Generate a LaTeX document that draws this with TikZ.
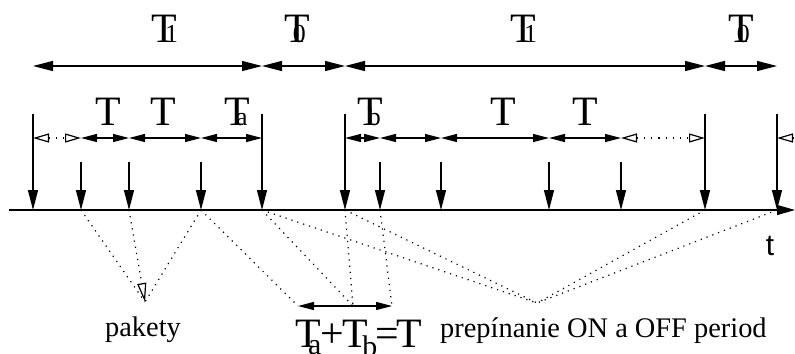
\documentclass[tikz,border=0pt]{standalone}
\usepackage{fontspec}
\setmainfont{Liberation Serif}
\setsansfont{Liberation Sans}
\usetikzlibrary{arrows.meta}

% T with a subscript set over it
\newcommand{\Tlab}[2][-12bp]{T\rlap{\kern#1\fontsize{26}{26}\selectfont #2}}

\tikzset{
  vec/.style={line width=1.3bp, -{Triangle[length=20bp,width=10bp]}},
  per/.style={line width=1.3bp, {Triangle[length=20bp,width=10bp]}-{Triangle[length=20bp,width=10bp]}},
  dimsmall/.style={line width=1.3bp, {Triangle[length=16bp,width=8bp]}-{Triangle[length=16bp,width=8bp]}},
  dimopen/.style={line width=1.2bp, dash pattern=on 1.2bp off 6bp,
    {Triangle[open,length=16bp,width=9bp]}-{Triangle[open,length=16bp,width=9bp]}},
  dimopenl/.style={line width=1.2bp, dash pattern=on 1.2bp off 6bp, {Triangle[open,length=16bp,width=9bp]}-},
  link/.style={line width=1.2bp, dash pattern=on 1.2bp off 5bp},
  lab/.style={font=\fontsize{42}{42}\selectfont, inner sep=0pt, anchor=base},
  txt/.style={font=\fontsize{28.5}{30}\selectfont, inner sep=0pt, anchor=base}
}

\begin{document}
\begin{tikzpicture}[x=1bp, y=-1bp]
\useasboundingbox (0,0) rectangle (795,353);
\coordinate (top) at (0,66);
\coordinate (mid) at (0,138);

% time axis
\coordinate (ax0) at (9,210);
\coordinate (ax1) at (795,210);
\draw[line width=1.3bp, -{Triangle[length=18bp,width=10bp]}] (ax0) -- (ax1);
\node[font=\sffamily\fontsize{30}{30}\selectfont, anchor=base] (t) at (770,255) {t};

% ON/OFF switching
\foreach \n/\x in {s0/33,s1/262,s2/345,s3/705,s4/777}{
  \coordinate (\n) at (\x,210);
  \coordinate (\n u) at (\x,114);
  \draw[vec] (\n u) -- (\n);
}
% packets
\foreach \n/\x in {p1/81,p2/129,p3/201,p4/380,p5/441,p6/549,p7/621}{
  \coordinate (\n) at (\x,210);
  \coordinate (\n u) at (\x,162);
  \draw[vec] (\n u) -- (\n);
}

\foreach \a/\b in {s0/s1,s1/s2,s2/s3,s3/s4}
  \draw[per] (\a |- top) -- (\b |- top);
\node[lab] (on1) at (164,42) {\Tlab[-11.7bp]{1}};
\node[lab] (off1) at (297,42) {\Tlab[-17bp]{0}};
\node[lab] (on2) at (523,42) {\Tlab[-11.7bp]{1}};
\node[lab] (off2) at (741,42) {\Tlab[-17bp]{0}};

\draw[dimopen] (s0 |- mid) -- (p1 |- mid);
\foreach \a/\b in {p1/p2,p2/p3,p3/s1,s2/p4,p4/p5,p5/p6,p6/p7}
  \draw[dimsmall] (\a |- mid) -- (\b |- mid);
\draw[dimopen] (p7 |- mid) -- (s3 |- mid);
\draw[dimopenl] (s4 |- mid) -- ++(18,0);
\node[lab] (tp1) at (108,125) {T};
\node[lab] (tp2) at (163,125) {T};
\node[lab] (ta) at (237,125) {\Tlab[-13.7bp]{a}};
\node[lab] (tb) at (370,125) {\Tlab[-15bp]{b}};
\node[lab] (tp3) at (503,125) {T};
\node[lab] (tp4) at (585,125) {T};

% packets
\coordinate (pk) at (145,302);
\draw[link] (p1) -- (pk);
\draw[link, -{Triangle[open,length=19bp,width=9bp,line width=1.2bp]}] (p2) -- (pk);
\draw[link] (p3) -- (pk);
\node[txt] (pakety) at (143,336) {pakety};

% Ta + Tb
\coordinate (sa) at (298,306);
\coordinate (sm) at (353,306);
\coordinate (sb) at (392,306);
\draw[dimsmall] (sa) -- (sb);
\draw[link] (p3) -- (sa);
\draw[link] (s1) -- (sm);
\draw[link] (s2) -- (sm);
\draw[link] (p4) -- (sb);
\node[lab, anchor=base west] (sum) at (295,347) {T\kern-12.7bp\lower7bp\hbox{\fontsize{30}{30}\selectfont a}\kern-1bp+\kern-1bp T\kern-6bp\lower9bp\hbox{\fontsize{30}{30}\selectfont b}\kern-2bp=\kern-3bp T};

% switching
\coordinate (sw) at (537,303);
\foreach \n in {s1,s2,s3,s4}
  \draw[link] (\n) -- (sw);
\node[txt, anchor=base west] (prep) at (440,337) {prepínanie ON a OFF period};
\end{tikzpicture}
\end{document}
